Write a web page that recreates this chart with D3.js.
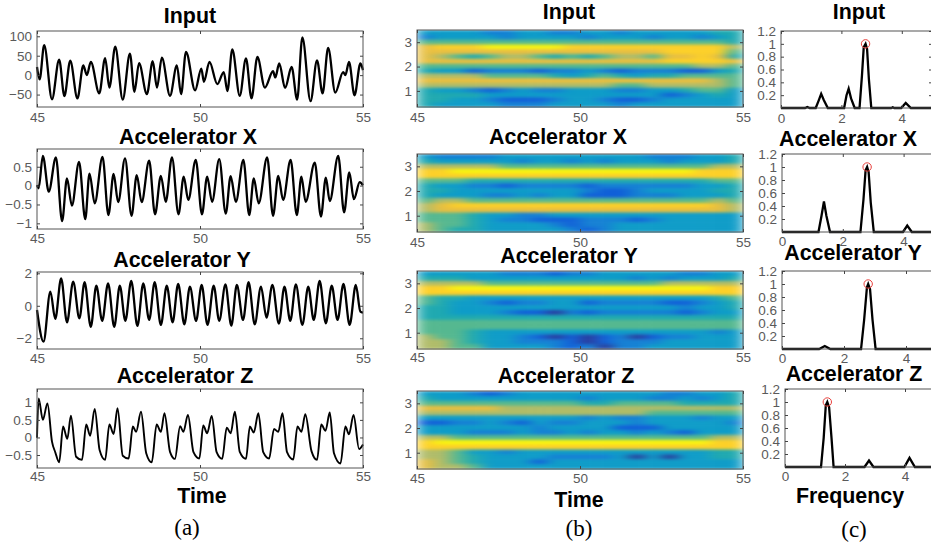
<!DOCTYPE html>
<html>
<head>
<meta charset="utf-8">
<script src="https://cdn.jsdelivr.net/npm/d3@7"></script>
<style>
  body { margin: 0; background: #fff; }
  svg { display: block; }
  .tick text { font-family: "Liberation Sans", Arial, sans-serif; font-size: 13.5px; fill: #5a5a5a; }
  .title { font-family: "Liberation Sans", Arial, sans-serif; font-weight: bold; font-size: 21.4px; fill: #000; text-anchor: middle; }
  .caption { font-family: "Liberation Serif", "Times New Roman", serif; font-size: 23px; fill: #000; text-anchor: middle; }
</style>
</head>
<body>
<div id="chart"></div>
<script>
const width = 931;
const height = 548;

const seriesNames = ["Input", "Accelerator X", "Accelerator Y", "Accelerator Z"];

// time domain, peaks and troughs
const inputT = [45,45.08,45.22,45.46,45.68,45.84,46.02,46.24,46.42,46.53,46.65,46.91,47.09,47.22,47.4,47.63,47.85,47.99,48.13,48.37,48.55,48.68,48.83,49.08,49.29,49.42,49.57,49.85,50.04,50.12,50.29,50.53,50.73,50.84,50.99,51.22,51.41,51.58,51.76,51.99,52.24,52.31,52.43,52.61,52.81,52.98,53.14,53.39,53.59,53.76,53.93,54.15,54.39,54.46,54.57,54.74,54.92,55];
const inputV = [21,-11,77,-62,40,-54,37,-60,25,0,34,-47,44,-32,73,-63,55,-43,31,-49,36,-32,45,-53,25,-49,60,-39,17,-17,34,-23,8,-41,66,-53,43,-60,47,-32,10,-6,30,-33,21,-63,97,-67,38,-47,70,-45,8,0,34,-52,30,13];

const accXT = [45,45.05,45.18,45.36,45.58,45.77,45.92,46.07,46.29,46.48,46.61,46.77,47.01,47.19,47.35,47.49,47.7,47.9,48.06,48.21,48.44,48.62,48.8,48.95,49.14,49.34,49.5,49.64,49.87,50.06,50.22,50.37,50.59,50.79,50.94,51.1,51.33,51.51,51.65,51.8,52.06,52.24,52.4,52.55,52.78,52.97,53.11,53.24,53.52,53.71,53.86,53.98,54.24,54.42,54.58,54.72,54.9,55];
const accXV = [0.01,-0.07,0.79,-0.16,0.75,-0.94,0.19,-0.53,0.63,-0.89,0.32,-0.47,0.76,-0.78,0.31,-0.44,0.72,-0.8,0.28,-0.44,0.66,-0.76,0.26,-0.43,0.75,-0.76,0.24,-0.38,0.68,-0.76,0.24,-0.43,0.7,-0.74,0.25,-0.43,0.68,-0.78,0.19,-0.47,0.75,-0.8,0.26,-0.38,0.68,-0.78,0.24,-0.43,0.61,-0.82,0.21,-0.41,0.79,-0.71,0.35,-0.36,0.09,0.01];

const accYT = [45,45.2,45.41,45.56,45.74,45.92,46.11,46.3,46.46,46.65,46.82,47,47.18,47.37,47.54,47.71,47.89,48.08,48.26,48.44,48.61,48.8,48.98,49.16,49.33,49.52,49.69,49.88,50.05,50.23,50.42,50.59,50.78,50.96,51.13,51.32,51.49,51.68,51.87,52.04,52.22,52.42,52.59,52.77,52.94,53.14,53.32,53.49,53.67,53.86,54.04,54.22,54.4,54.59,54.78,54.92,55];
const accYV = [-0.26,-2.21,0.87,-0.81,1.69,-1.02,1.49,-0.77,1.45,-1.3,1.24,-0.93,1.38,-1.3,1.24,-0.93,1.53,-1.24,1.38,-0.87,1.45,-1.18,1.24,-1.02,1.34,-1.14,1.18,-0.93,1.28,-1.18,1.24,-0.93,1.32,-1.22,1.28,-0.87,1.45,-1.14,1.18,-0.73,1.28,-1.1,1.18,-0.93,1.32,-1.18,1.18,-0.87,1.53,-1.08,1.24,-0.87,1.34,-1.18,1.28,-0.36,-0.42];

const accZT = [45,45.05,45.18,45.32,45.46,45.56,45.68,45.8,45.93,46.04,46.2,46.38,46.51,46.63,46.77,46.92,47.09,47.22,47.35,47.47,47.63,47.81,47.94,48.04,48.19,48.35,48.52,48.67,48.8,48.91,49.08,49.23,49.39,49.49,49.63,49.8,49.98,50.1,50.22,50.36,50.51,50.68,50.82,50.94,51.07,51.22,51.41,51.53,51.65,51.79,51.94,52.12,52.27,52.4,52.53,52.67,52.86,52.99,53.11,53.23,53.42,53.59,53.72,53.85,53.98,54.11,54.31,54.46,54.57,54.71,54.88,55];
const accZV = [-0.01,1.11,0.5,0.97,-0.12,-0.42,-0.71,0.31,-0.04,0.62,-0.55,-0.64,0.37,0.05,0.81,-0.36,-0.64,0.37,0.1,0.83,-0.52,-0.6,0.31,0.16,0.73,-0.45,-0.71,0.37,0.16,0.69,-0.41,-0.61,0.32,0.16,0.64,-0.42,-0.6,0.34,0.12,0.61,-0.42,-0.61,0.28,0.12,0.73,-0.41,-0.61,0.31,0.14,0.69,-0.42,-0.6,0.24,0.16,0.69,-0.42,-0.63,0.31,0.16,0.66,-0.39,-0.64,0.37,0.19,0.71,-0.45,-0.74,0.31,0.09,0.64,-0.33,-0.2];

// scalograms of panel (b): rows run top to bottom, columns run left to right, level 0 to 9
const heatTimes = [45.25,45.75,46.25,46.75,47.25,47.75,48.25,48.75,49.25,49.75,50.25,50.75,51.25,51.75,52.25,52.75,53.25,53.75,54.25,54.75];
const heatFreqs = [3.4,3.2,3.0,2.8,2.6,2.4,2.2,2.0,1.8,1.6,1.4,1.2,1.0,0.8,0.6,0.4];

const heatInput = [
  [3,3,3,3,2,2,3,3,2,2,3,3,2,3,3,3,3,3,4,4],
  [2,3,3,3,3,2,3,3,3,3,2,3,3,3,2,3,3,2,3,4],
  [5,5,5,5,5,5,5,5,5,5,5,5,5,5,5,5,5,5,5,4],
  [7,8,8,8,9,9,9,9,9,8,8,8,8,8,8,8,8,8,8,6],
  [7,7,7,7,7,7,7,7,7,7,7,7,7,7,7,8,8,8,8,5],
  [7,6,5,4,5,6,6,5,4,5,4,5,6,6,5,7,7,8,7,4],
  [7,7,7,7,7,7,7,7,7,7,7,7,7,7,7,8,8,8,8,7],
  [5,5,5,5,5,5,5,5,5,5,5,5,5,5,5,5,5,6,6,5],
  [4,3,3,1,2,2,2,1,2,2,3,2,1,2,2,2,1,1,3,4],
  [6,6,6,6,5,5,5,5,4,3,4,5,4,3,4,4,5,5,5,5],
  [7,7,7,7,7,7,7,7,7,7,7,7,7,7,7,7,7,7,6,5],
  [6,6,6,6,6,6,6,6,6,6,6,6,5,5,6,6,6,6,6,5],
  [4,3,3,2,1,2,3,2,2,3,3,3,2,2,3,3,4,5,5,3],
  [4,4,4,4,3,3,3,3,3,3,3,3,3,3,3,1,2,3,4,3],
  [4,4,3,3,2,1,1,1,2,3,3,2,1,1,2,3,3,3,3,3],
  [4,3,3,3,3,2,2,2,3,3,3,3,2,3,3,3,3,3,3,3]
];
const heatX = [
  [3,2,2,2,2,3,3,3,3,3,3,3,3,3,2,2,2,3,3,4],
  [4,3,3,3,3,3,2,3,3,2,3,2,3,3,3,2,3,3,3,4],
  [6,6,6,6,6,5,5,5,5,5,5,5,5,5,5,5,5,5,6,6],
  [8,8,9,9,9,9,9,9,9,9,9,9,9,9,9,9,9,8,8,8],
  [8,8,8,8,8,8,8,8,8,8,8,8,8,8,8,8,8,8,8,8],
  [5,5,5,4,4,4,4,4,4,4,4,4,4,4,4,4,4,4,5,5],
  [4,3,3,2,2,1,2,2,2,2,1,2,2,2,2,2,2,3,3,4],
  [4,4,3,3,3,3,3,3,3,3,2,1,1,2,3,3,3,3,4,4],
  [4,3,3,3,2,2,3,2,3,3,1,1,1,2,2,2,3,3,3,4],
  [5,6,6,5,5,5,5,5,5,5,5,5,5,5,5,5,5,5,6,5],
  [6,7,8,8,8,8,8,8,8,8,8,8,8,8,8,8,8,8,7,6],
  [6,7,7,7,7,7,7,7,7,7,7,7,7,7,7,7,7,7,7,6],
  [5,5,5,4,3,3,2,2,3,3,3,3,3,3,3,3,3,3,3,3],
  [5,5,5,4,3,2,2,1,1,1,2,2,2,1,2,3,3,3,3,3],
  [6,5,5,4,3,3,3,3,2,1,2,2,3,3,3,3,3,3,3,3],
  [6,5,4,4,3,3,3,3,3,2,1,2,3,3,3,3,3,3,3,3]
];
const heatY = [
  [3,3,3,3,3,2,2,2,1,2,2,3,3,3,3,3,2,2,3,3],
  [4,4,4,3,3,3,3,3,3,3,3,3,3,2,3,2,3,3,3,4],
  [6,6,6,6,5,5,5,5,5,5,5,5,5,5,5,6,6,6,6,6],
  [8,8,9,9,9,9,9,9,9,9,9,9,9,9,9,9,9,9,8,8],
  [8,8,8,8,8,8,8,8,8,8,8,8,8,8,8,8,8,8,8,8],
  [5,4,4,3,3,3,3,3,3,3,3,3,3,3,3,3,3,3,4,5],
  [5,4,3,3,2,1,2,2,3,3,1,2,2,2,2,1,1,2,3,4],
  [4,4,3,3,3,3,3,3,3,3,3,3,3,3,3,3,2,3,3,4],
  [4,4,3,3,3,2,1,1,0,2,1,2,2,2,2,2,1,2,3,3],
  [4,4,4,4,4,4,4,4,4,4,4,4,4,4,4,4,4,4,4,4],
  [5,5,5,5,5,5,5,5,5,5,5,5,5,5,5,5,5,5,5,5],
  [5,5,5,5,5,5,5,5,5,5,5,5,5,5,5,5,5,5,5,5],
  [5,5,5,4,3,3,3,3,3,3,3,3,3,3,3,3,3,3,2,3],
  [6,5,5,4,3,3,2,1,0,1,0,1,2,0,1,2,2,3,3,3],
  [6,6,5,4,3,3,2,2,2,1,0,1,2,2,2,3,3,3,3,3],
  [6,6,5,5,3,3,3,3,2,1,2,0,2,2,3,3,3,3,3,3]
];
const heatZ = [
  [3,3,3,2,1,2,3,3,3,3,3,3,3,3,3,2,2,3,3,4],
  [4,3,3,3,3,3,3,3,3,3,2,3,3,3,2,2,3,2,3,4],
  [5,5,5,5,5,5,5,5,5,5,4,4,5,5,5,5,4,4,4,4],
  [7,7,7,7,7,6,6,6,6,6,6,6,6,6,6,6,6,6,6,6],
  [6,6,6,6,6,6,6,6,6,6,6,6,6,6,5,5,5,5,5,5],
  [3,3,3,3,3,3,3,3,3,3,2,3,2,2,3,3,3,2,3,3],
  [1,1,2,2,3,2,1,3,2,2,3,3,3,2,3,3,3,3,3,2],
  [3,3,3,3,3,3,3,2,3,3,3,3,1,1,1,3,3,3,3,3],
  [3,3,3,2,2,2,3,2,2,3,2,3,3,2,3,2,1,3,3,3],
  [6,6,5,5,5,5,5,5,5,5,5,5,5,5,5,5,5,5,6,6],
  [8,9,9,9,9,9,9,9,9,9,9,9,9,9,9,9,9,9,8,8],
  [8,8,8,8,8,8,8,8,8,8,8,8,8,8,8,8,8,8,8,8],
  [6,6,5,3,3,2,3,3,3,3,3,3,3,3,3,3,3,3,4,4],
  [6,6,5,4,3,3,3,3,2,2,2,2,3,0,3,0,3,3,4,4],
  [7,6,5,4,3,3,3,1,3,3,3,3,3,3,3,3,3,3,3,3],
  [7,6,6,5,3,3,3,3,3,3,3,3,3,3,3,3,3,3,3,3]
];
const heatLevels = ["#2a3a9a","#1060d8","#1480d4","#0e9cc8","#1fa9b0","#55b890","#b0bc68","#e8bf40","#fcd028","#f8f410"];

// spectra of panel (c)
const fftInputF = [0,0.8,0.87,0.95,1.15,1.25,1.33,1.42,1.55,2.09,2.17,2.24,2.32,2.44,2.6,2.68,2.74,2.8,2.85,2.91,2.99,3.65,3.7,3.75,3.98,4.13,4.3,5];
const fftInputA = [0,0,0.015,0,0,0.12,0.22,0.12,0,0,0.2,0.3,0.15,0,0,0.5,0.95,1,0.92,0.45,0,0,0.012,0,0,0.08,0,0];
const fftXF = [0,1.2,1.3,1.38,1.46,1.58,2.58,2.68,2.75,2.8,2.85,2.92,3.02,3.98,4.12,4.27,5];
const fftXA = [0,0,0.25,0.47,0.25,0,0,0.5,0.95,1,0.92,0.45,0,0,0.1,0,0];
const fftYF = [0,1.2,1.38,1.56,2.55,2.65,2.74,2.78,2.84,2.92,3.02,5];
const fftYA = [0,0,0.045,0,0,0.45,0.95,1,0.92,0.45,0,0];
const fftZF = [0,1.2,1.29,1.36,1.41,1.47,1.55,1.62,2.65,2.8,2.95,3.98,4.15,4.33,5];
const fftZA = [0,0,0.45,0.95,1,0.92,0.45,0,0,0.1,0,0,0.14,0,0];
const fftPeakF = [2.8, 2.8, 2.78, 1.41];

const svg = d3.select("#chart")
  .append("svg")
  .attr("width", width)
  .attr("height", height);

const defs = svg.append("defs");

const heatBlur = defs.append("filter")
  .attr("id", "heat-blur")
  .attr("x", 0).attr("y", 0).attr("width", 1).attr("height", 1)
  .attr("color-interpolation-filters", "sRGB");
heatBlur.append("feGaussianBlur")
  .attr("stdDeviation", "7 1.7")
  .attr("edgeMode", "duplicate");

defs.append("filter")
  .attr("id", "soft")
  .attr("x", "-2%").attr("y", "-5%").attr("width", "104%").attr("height", "110%")
  .append("feGaussianBlur")
  .attr("stdDeviation", 0.35);

const heatColor = d3.scaleLinear()
  .domain(d3.range(heatLevels.length))
  .range(heatLevels);

function drawAxes(g, xScale, yScale, xTicks, yTicks, yFormat, box, labelGap) {
  g.append("rect")
    .attr("x", box.x0)
    .attr("y", box.y0)
    .attr("width", box.x1 - box.x0)
    .attr("height", box.y1 - box.y0)
    .attr("fill", "none")
    .attr("stroke", "#555")
    .attr("stroke-width", 1);

  g.append("g")
    .attr("transform", `translate(0, ${box.y1})`)
    .call(d3.axisBottom(xScale).tickValues(xTicks).tickFormat(d3.format("d")).tickSizeInner(-3).tickSizeOuter(0).tickPadding(labelGap));
  g.append("g")
    .attr("transform", `translate(${box.x0}, 0)`)
    .call(d3.axisLeft(yScale).tickValues(yTicks).tickFormat(yFormat).tickSizeInner(-3).tickSizeOuter(0).tickPadding(5));

  // matching ticks on the top and right of the box
  g.append("g")
    .attr("transform", `translate(0, ${box.y0})`)
    .call(d3.axisTop(xScale).tickValues(xTicks).tickSizeInner(-3).tickSizeOuter(0).tickFormat(""));
  g.append("g")
    .attr("transform", `translate(${box.x1}, 0)`)
    .call(d3.axisRight(yScale).tickValues(yTicks).tickSizeInner(-3).tickSizeOuter(0).tickFormat(""));

  g.selectAll(".domain").remove();
  g.selectAll(".tick line").attr("stroke", "#444");
}

function addTitle(text, x, y, cls = "title") {
  svg.append("text").attr("class", cls).attr("x", x).attr("y", y).text(text);
}

// panel (a)
const timePanels = [
  { t: inputT, v: inputV, box: { x0: 37, x1: 363, y0: 31, y1: 107 }, domain: [-82, 113.6], ticks: [-50, 0, 50, 100], gap: 5, lineWidth: 2.3, title: [190, 23] },
  { t: accXT, v: accXV, box: { x0: 37, x1: 363, y0: 149, y1: 229 }, domain: [-1.15, 0.97], ticks: [-1, -0.5, 0, 0.5], gap: 4, lineWidth: 2.3, title: [188, 144] },
  { t: accYT, v: accYV, box: { x0: 37, x1: 363, y0: 272, y1: 349 }, domain: [-2.66, 2.08], ticks: [-2, 0, 2], gap: 4, lineWidth: 2.3, title: [182, 267] },
  { t: accZT, v: accZV, box: { x0: 37, x1: 363, y0: 389, y1: 468 }, domain: [-0.87, 1.38], ticks: [-0.5, 0, 0.5, 1], gap: 3, lineWidth: 1.9, title: [185, 383] }
];

timePanels.forEach((p, i) => {
  const g = svg.append("g");
  const xScale = d3.scaleLinear().domain([45, 55]).range([p.box.x0, p.box.x1]);
  const yScale = d3.scaleLinear().domain(p.domain).range([p.box.y1, p.box.y0]);
  const line = d3.line()
    .x(d => xScale(p.t[d]))
    .y(d => yScale(p.v[d]))
    .curve(d3.curveMonotoneX);

  g.append("path")
    .attr("d", line(d3.range(p.t.length)))
    .attr("fill", "none")
    .attr("stroke", "#000")
    .attr("stroke-width", p.lineWidth)
    .attr("stroke-linejoin", "round")
    .attr("filter", "url(#soft)");

  drawAxes(g, xScale, yScale, [45, 50, 55], p.ticks, d3.format("~g"), p.box, p.gap);
  addTitle(seriesNames[i], p.title[0], p.title[1]);
});
addTitle("Time", 202, 503);
addTitle("(a)", 187, 535, "caption");

// panel (b)
const heatPanels = [
  { rows: heatInput, box: { x0: 417, x1: 743, y0: 30, y1: 107 }, gap: 5, title: [569, 19] },
  { rows: heatX, box: { x0: 417, x1: 743, y0: 154, y1: 232 }, gap: 5, title: [558, 144] },
  { rows: heatY, box: { x0: 417, x1: 743, y0: 271, y1: 349 }, gap: 3, title: [569, 263] },
  { rows: heatZ, box: { x0: 417, x1: 743, y0: 391, y1: 469 }, gap: 4, title: [566, 383] }
];

heatPanels.forEach((p, i) => {
  const g = svg.append("g");
  const xScale = d3.scaleLinear().domain([45, 55]).range([p.box.x0, p.box.x1]);
  const yScale = d3.scaleLinear().domain([0.34, 3.5]).range([p.box.y1, p.box.y0]);
  const colBand = d3.scaleBand().domain(heatTimes).range([p.box.x0, p.box.x1]);
  const rowBand = d3.scaleBand().domain(heatFreqs).range([p.box.y0, p.box.y1]);

  g.append("g")
    .attr("filter", "url(#heat-blur)")
    .selectAll("g")
    .data(p.rows)
    .enter()
    .append("g")
    .selectAll("rect")
    .data((row, r) => row.map((level, c) => ({ level, r, c })))
    .enter()
    .append("rect")
    .attr("x", d => colBand(heatTimes[d.c]))
    .attr("y", d => rowBand(heatFreqs[d.r]))
    .attr("width", colBand.bandwidth() + 0.5)
    .attr("height", rowBand.bandwidth() + 0.5)
    .attr("fill", d => heatColor(d.level));

  drawAxes(g, xScale, yScale, [45, 50, 55], [1, 2, 3], d3.format("d"), p.box, p.gap);
  addTitle(seriesNames[i], p.title[0], p.title[1]);
});
addTitle("Time", 579, 507);
addTitle("(b)", 579, 536, "caption");

// panel (c)
const fftPanels = [
  { f: fftInputF, a: fftInputA, box: { x0: 781, x1: 932, y0: 31, y1: 108 }, gap: 5, title: [859, 19] },
  { f: fftXF, a: fftXA, box: { x0: 782, x1: 934, y0: 154, y1: 232 }, gap: 4, title: [848, 146] },
  { f: fftYF, a: fftYA, box: { x0: 782, x1: 937, y0: 271, y1: 349 }, gap: 4, title: [853, 260] },
  { f: fftZF, a: fftZA, box: { x0: 785, x1: 935, y0: 389, y1: 467 }, gap: 4, title: [854, 381] }
];

fftPanels.forEach((p, i) => {
  const g = svg.append("g");
  const xScale = d3.scaleLinear().domain([0, 5]).range([p.box.x0, p.box.x1]);
  const yScale = d3.scaleLinear().domain([0, 1.2]).range([p.box.y1, p.box.y0]);
  const line = d3.line()
    .x(d => xScale(p.f[d]))
    .y(d => yScale(p.a[d]));

  g.append("path")
    .attr("d", line(d3.range(p.f.length)))
    .attr("fill", "none")
    .attr("stroke", "#000")
    .attr("stroke-width", 2.3)
    .attr("filter", "url(#soft)");

  g.append("circle")
    .attr("cx", xScale(fftPeakF[i]))
    .attr("cy", yScale(1))
    .attr("r", 4.2)
    .attr("fill", "none")
    .attr("stroke", "#e8403c")
    .attr("stroke-width", 1);

  drawAxes(g, xScale, yScale, [0, 2, 4], [0.2, 0.4, 0.6, 0.8, 1, 1.2], d3.format("~g"), p.box, p.gap);
  addTitle(seriesNames[i], p.title[0], p.title[1]);
});
addTitle("Frequency", 850, 503);
addTitle("(c)", 854, 537, "caption");
</script>
</body>
</html>
